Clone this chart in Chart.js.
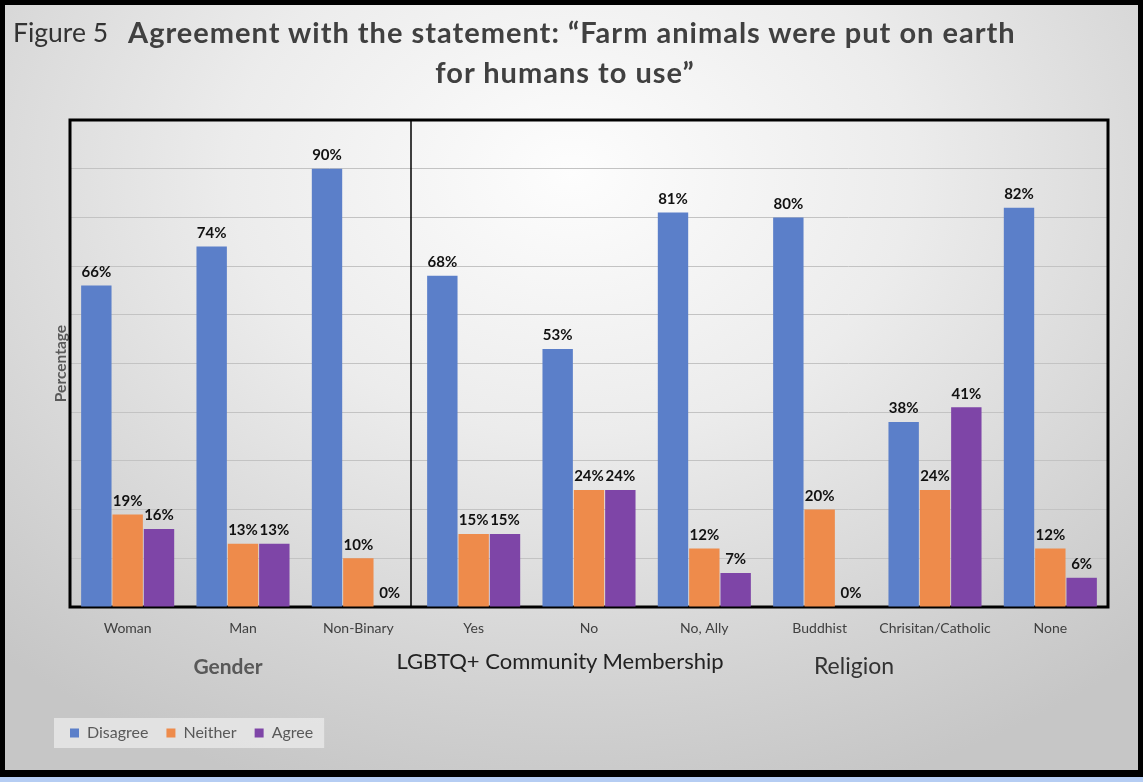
<!DOCTYPE html>
<html>
<head>
<meta charset="utf-8">
<script src="https://cdn.jsdelivr.net/npm/chart.js@4.4.1/dist/chart.umd.min.js"></script>
<style>
  html, body { margin: 0; padding: 0; background: #000; }
  body { width: 1143px; height: 782px; position: relative; overflow: hidden; font-family: Lato, "Open Sans", sans-serif; }
  #panel {
    position: absolute; left: 5px; top: 5px; width: 1133px; height: 765px;
    background: radial-gradient(ellipse 75% 85% at 50% 22%, #fdfdfd 0%, #ececec 40%, #d2d2d2 80%, #c6c6c6 100%);
  }
  #strip { position: absolute; left: 0; top: 777px; width: 1143px; height: 5px; background: #b5cdf3; }
  canvas { position: absolute; left: 0; top: 0; }
  .txt { position: absolute; white-space: nowrap; line-height: 1.2; }
  .head { font-size: 29px; font-weight: bold; color: #404040; letter-spacing: 1px; }
</style>
</head>
<body>
<div id="panel"></div>
<div id="strip"></div>
<canvas id="chart" width="1143" height="782"></canvas>

<div class="txt" style="left:13px; top:17px; font-size:26.5px; color:#333;">Figure 5</div>
<div class="txt head" style="left:128px; top:15px;">Agreement with the statement: “Farm animals were put on earth</div>
<div class="txt head" style="left:565px; top:55px; transform:translateX(-50%);">for humans to use”</div>

<div class="txt" style="left:228px; top:653px; font-size:21px; font-weight:bold; color:#595959; transform:translateX(-50%);">Gender</div>
<div class="txt" style="left:560px; top:648px; font-size:22px; color:#222;transform:translateX(-50%);">LGBTQ+ Community Membership</div>
<div class="txt" style="left:854px; top:652px; font-size:23px; color:#333; transform:translateX(-50%);">Religion</div>

<script>
// categories and percentages per answer
const categories = ['Woman', 'Man', 'Non-Binary', 'Yes', 'No', 'No, Ally', 'Buddhist', 'Chrisitan/Catholic', 'None'];
const disagree = [66, 74, 90, 68, 53, 81, 80, 38, 82];
const neither  = [19, 13, 10, 15, 24, 12, 20, 24, 12];
const agree    = [16, 13, 0, 15, 24, 7, 0, 41, 6];

Chart.defaults.font.family = 'Lato, "Open Sans", sans-serif';

// black frame around the plot, plus the divider after the gender group
const frame = {
  id: 'frame',
  beforeDraw(chart) {
    // light box behind the legend
    const lg = chart.legend;
    if (lg && lg.legendHitBoxes.length) {
      const boxes = lg.legendHitBoxes;
      const first = boxes[0], last = boxes[boxes.length - 1];
      const ctx = chart.ctx;
      const cy = first.top + first.height / 2;
      ctx.save();
      ctx.fillStyle = 'rgba(235,235,235,0.75)';
      ctx.fillRect(first.left - 16, cy - 15, last.left + last.width - first.left + 27, 30);
      ctx.restore();
    }
  },
  beforeDatasetsDraw(chart) {
    const { ctx, chartArea: a, scales: { x } } = chart;
    ctx.save();
    ctx.strokeStyle = '#000';
    const sep = (x.getPixelForValue(2) + x.getPixelForValue(3)) / 2 - 5;
    ctx.lineWidth = 1.5;
    ctx.beginPath();
    ctx.moveTo(sep, a.top);
    ctx.lineTo(sep, a.bottom);
    ctx.stroke();
    ctx.lineWidth = 3;
    ctx.strokeRect(a.left, a.top, a.right - a.left, a.bottom - a.top);
    ctx.restore();
  }
};

// percentage labels above each bar
const valueLabels = {
  id: 'valueLabels',
  afterDatasetsDraw(chart) {
    const ctx = chart.ctx;
    ctx.save();
    ctx.font = 'bold 15px Lato, "Open Sans", sans-serif';
    ctx.fillStyle = '#111';
    ctx.textAlign = 'center';
    ctx.textBaseline = 'bottom';
    chart.data.datasets.forEach((ds, i) => {
      chart.getDatasetMeta(i).data.forEach((bar, j) => {
        ctx.fillText(ds.data[j] + '%', bar.x, bar.y - 6);
      });
    });
    ctx.restore();
  }
};

new Chart(document.getElementById('chart'), {
  type: 'bar',
  data: {
    labels: categories,
    datasets: [
      { label: 'Disagree', data: disagree, backgroundColor: '#5b7fc9' },
      { label: 'Neither', data: neither, backgroundColor: '#ee8b4b' },
      { label: 'Agree', data: agree, backgroundColor: '#7e45a7' }
    ]
  },
  options: {
    responsive: false,
    animation: false,
    layout: { padding: { left: 52, right: 35, top: 120, bottom: 31 } },
    datasets: { bar: { categoryPercentage: 0.815, barPercentage: 0.97 } },
    scales: {
      x: {
        grid: { display: false, drawTicks: false },
        border: { display: false },
        ticks: { padding: 13, color: '#404040', font: { size: 14 }, maxRotation: 0, minRotation: 0, autoSkip: false },
        afterFit(scale) { scale.height = 100; }
      },
      y: {
        min: 0,
        max: 100,
        ticks: { display: false, stepSize: 10 },
        grid: { color: '#c3c3c3', lineWidth: 1, drawTicks: false },
        border: { display: false },
        title: { display: true, text: 'Percentage', color: '#595959', font: { size: 15.5, weight: 'bold' }, padding: 0 },
        afterFit(scale) { scale.width = 18; }
      }
    },
    plugins: {
      legend: {
        position: 'bottom',
        align: 'start',
        labels: { boxWidth: 9, boxHeight: 9, padding: 18, color: '#595959', font: { size: 16 } }
      },
      tooltip: { enabled: false }
    }
  },
  plugins: [frame, valueLabels]
});
</script>
</body>
</html>
